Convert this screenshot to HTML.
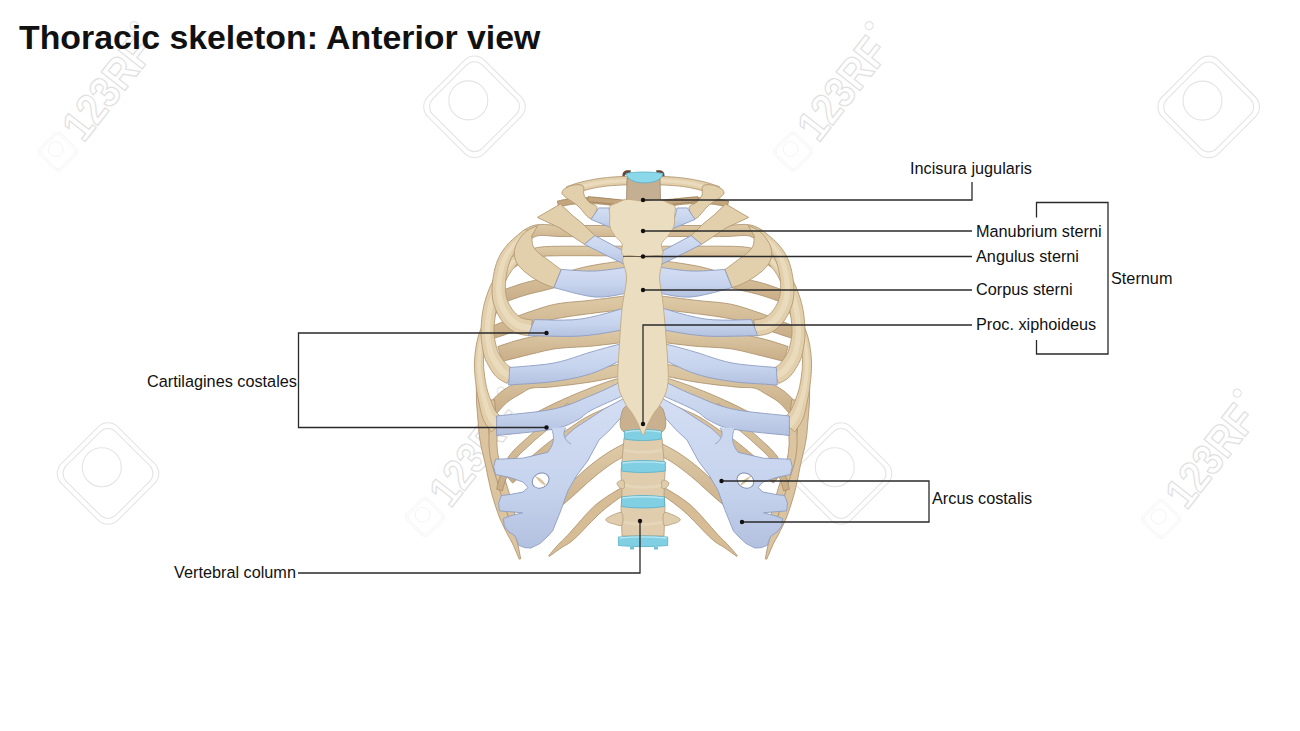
<!DOCTYPE html>
<html><head><meta charset="utf-8">
<style>
html,body{margin:0;padding:0;background:#fff;width:1300px;height:731px;overflow:hidden}
svg{position:absolute;left:0;top:0}
text{font-family:"Liberation Sans",sans-serif;fill:#111}
</style></head><body>
<svg width="1300" height="731" viewBox="0 0 1300 731">
<!-- CAGE -->
<defs>
<g id="wmi" fill="none" stroke="#e4e4e4" stroke-width="1.1">
 <rect x="-40" y="-40" width="80" height="80" rx="14" transform="rotate(45)"/>
 <rect x="-35" y="-35" width="70" height="70" rx="11" transform="rotate(45)"/>
 <circle cx="-6.2" cy="-6.3" r="19.5"/>
</g>
<g id="wmt" fill="#fff" stroke="#e2e2e2" stroke-width="1.1">
 <g transform="scale(0.38)"><use href="#wmi"/></g>
 <g transform="rotate(-51.8)">
  <text x="22" y="15" font-weight="bold" font-size="44" textLength="116" lengthAdjust="spacingAndGlyphs" style="fill:#fff;stroke:#e0e0e0;stroke-width:1.2">123RF</text>
  <circle cx="146" cy="-18" r="4" fill="none"/>
 </g>
</g>
</defs>
<g id="wm">
<use href="#wmi" x="474.5" y="106.7"/><use href="#wmi" x="1208.7" y="106.9"/>
<use href="#wmi" x="108" y="473.5"/><use href="#wmi" x="841" y="473.5"/>
<use href="#wmt" x="58" y="151.5"/><use href="#wmt" x="793" y="151.5"/>
<use href="#wmt" x="425" y="517"/><use href="#wmt" x="1161" y="519"/>
</g>
<g id="cage"><!--CAGE-->
<defs><linearGradient id="gP" x1="0" y1="0" x2="0" y2="1"><stop offset="0" stop-color="#dfcba8"/><stop offset="1" stop-color="#c8ad87"/></linearGradient><linearGradient id="gC" x1="0" y1="0" x2="0" y2="1"><stop offset="0" stop-color="#d3def3"/><stop offset="0.6" stop-color="#c6d3ed"/><stop offset="1" stop-color="#b3c1e0"/></linearGradient><g id="L">
<path d="M630.4,202.0 L628.1,201.7 L624.9,201.2 L621.2,200.7 L617.0,200.0 L612.6,199.4 L608.2,198.8 L604.0,198.4 L600.2,198.0 L596.7,197.8 L593.3,197.6 L589.9,197.6 L586.7,197.6 L583.5,197.6 L580.5,197.7 L577.5,197.8 L574.8,198.0 L572.0,198.3 L569.3,198.6 L566.8,199.1 L564.3,199.6 L562.1,200.0 L560.2,200.5 L558.6,200.8 L557.4,201.1 L558.6,206.9 L559.9,206.7 L561.5,206.3 L563.4,205.9 L565.5,205.4 L567.8,205.0 L570.2,204.6 L572.7,204.2 L575.2,204.0 L577.9,203.8 L580.7,203.7 L583.6,203.6 L586.7,203.6 L589.9,203.6 L593.1,203.6 L596.4,203.8 L599.8,204.0 L603.4,204.3 L607.5,204.8 L611.8,205.4 L616.1,206.0 L620.3,206.6 L624.0,207.2 L627.2,207.6 L629.6,208.0 Z" fill="#c3a67d" stroke="#9f825c" stroke-width="0.8"/>
<path d="M630.0,225.5 L626.8,225.5 L622.6,225.5 L617.5,225.5 L611.9,225.5 L606.0,225.5 L600.2,225.5 L594.8,225.5 L590.0,225.5 L585.7,225.5 L581.5,225.5 L577.6,225.5 L573.7,225.6 L570.1,225.6 L566.6,225.6 L563.3,225.5 L560.1,225.5 L557.2,225.4 L554.4,225.2 L551.8,225.0 L549.2,224.8 L546.7,224.6 L544.3,224.5 L541.9,224.4 L539.7,224.5 L537.6,224.7 L535.7,225.0 L534.0,225.4 L532.5,225.8 L531.0,226.4 L529.8,226.9 L528.6,227.5 L527.4,228.1 L526.0,229.0 L524.6,230.0 L523.3,231.1 L522.1,232.1 L521.0,233.1 L520.1,234.0 L519.4,234.6 L518.9,235.1 L525.1,242.9 L525.8,242.4 L526.7,241.7 L527.7,241.0 L528.7,240.3 L529.7,239.5 L530.8,238.8 L531.7,238.3 L532.6,237.9 L533.5,237.4 L534.5,237.0 L535.3,236.6 L536.0,236.3 L536.8,236.0 L537.8,235.8 L538.9,235.6 L540.3,235.5 L542.0,235.4 L543.8,235.5 L546.0,235.6 L548.3,235.8 L550.9,236.0 L553.7,236.2 L556.7,236.4 L559.9,236.5 L563.1,236.5 L566.5,236.6 L570.1,236.6 L573.8,236.6 L577.6,236.5 L581.6,236.5 L585.7,236.5 L590.0,236.5 L594.8,236.5 L600.2,236.5 L606.0,236.5 L611.9,236.5 L617.5,236.5 L622.6,236.5 L626.8,236.5 L630.0,236.5 Z" fill="url(#gP)" stroke="#a88d68" stroke-width="0.8"/>
<path d="M630.0,246.2 L626.8,246.2 L622.6,246.2 L617.5,246.2 L611.9,246.2 L606.0,246.2 L600.2,246.2 L594.8,246.2 L590.0,246.3 L585.7,246.2 L581.6,246.2 L577.6,246.2 L573.8,246.2 L570.1,246.2 L566.5,246.2 L563.2,246.2 L559.9,246.3 L556.9,246.3 L554.2,246.3 L551.6,246.4 L549.1,246.5 L546.7,246.6 L544.2,246.7 L541.8,247.0 L539.3,247.3 L536.7,247.7 L534.1,248.3 L531.5,248.9 L529.0,249.5 L526.6,250.2 L524.3,250.9 L522.2,251.6 L520.1,252.4 L518.1,253.2 L516.3,254.2 L514.6,255.2 L513.1,256.1 L511.8,257.0 L510.7,257.8 L509.9,258.4 L509.3,258.8 L514.7,267.2 L515.5,266.7 L516.5,266.0 L517.5,265.3 L518.7,264.5 L519.9,263.7 L521.1,263.0 L522.5,262.3 L523.9,261.6 L525.6,261.0 L527.5,260.3 L529.5,259.6 L531.7,258.9 L534.0,258.2 L536.2,257.6 L538.5,257.1 L540.7,256.7 L542.9,256.4 L545.0,256.2 L547.2,256.0 L549.4,255.9 L551.8,255.9 L554.3,255.8 L557.1,255.8 L560.1,255.7 L563.3,255.7 L566.6,255.7 L570.1,255.7 L573.7,255.7 L577.6,255.7 L581.5,255.7 L585.7,255.7 L590.0,255.7 L594.8,255.8 L600.2,255.8 L606.0,255.8 L611.9,255.8 L617.5,255.8 L622.6,255.8 L626.8,255.8 L630.0,255.8 Z" fill="url(#gP)" stroke="#a88d68" stroke-width="0.8"/>
<path d="M629.2,260.1 L626.1,260.5 L622.1,261.0 L617.2,261.6 L611.7,262.4 L606.0,263.2 L600.1,264.1 L594.3,265.1 L588.8,266.1 L583.4,267.3 L577.9,268.7 L572.4,270.2 L566.9,271.7 L561.5,273.3 L556.4,274.7 L551.7,276.0 L547.5,277.2 L543.7,278.2 L540.3,279.0 L537.2,279.7 L534.4,280.4 L531.6,281.1 L528.9,281.7 L526.2,282.4 L523.3,283.2 L520.3,284.1 L517.2,285.1 L514.1,286.2 L511.1,287.2 L508.2,288.2 L505.7,289.1 L503.6,289.8 L502.1,290.3 L505.9,301.7 L507.6,301.1 L509.7,300.4 L512.2,299.5 L514.9,298.5 L517.9,297.5 L520.9,296.5 L523.9,295.6 L526.7,294.8 L529.3,294.0 L531.9,293.4 L534.4,292.7 L537.1,292.1 L540.0,291.4 L543.2,290.7 L546.6,289.8 L550.5,288.8 L554.9,287.6 L559.7,286.3 L564.8,284.8 L570.1,283.3 L575.5,281.8 L580.9,280.3 L586.2,279.0 L591.2,277.9 L596.4,276.9 L602.0,275.9 L607.7,275.1 L613.4,274.3 L618.8,273.5 L623.6,272.9 L627.7,272.4 L630.8,271.9 Z" fill="url(#gP)" stroke="#a88d68" stroke-width="0.8"/>
<path d="M629.2,295.5 L626.0,295.8 L621.8,296.4 L616.8,297.0 L611.2,297.7 L605.4,298.5 L599.6,299.2 L594.1,299.9 L589.2,300.4 L584.8,300.9 L580.6,301.3 L576.4,301.6 L572.4,302.0 L568.4,302.3 L564.4,302.8 L560.5,303.3 L556.7,303.9 L552.9,304.7 L549.2,305.6 L545.7,306.6 L542.3,307.6 L539.0,308.7 L535.9,309.7 L532.9,310.7 L530.0,311.7 L527.2,312.6 L524.6,313.5 L522.2,314.4 L519.9,315.3 L517.6,316.1 L515.4,317.0 L513.1,317.9 L510.7,318.8 L508.0,319.9 L505.0,321.0 L501.8,322.3 L498.7,323.5 L495.7,324.7 L492.9,325.8 L490.7,326.7 L489.0,327.4 L493.0,338.6 L494.8,338.1 L497.1,337.3 L499.9,336.4 L503.0,335.4 L506.2,334.3 L509.4,333.2 L512.5,332.2 L515.3,331.2 L517.8,330.3 L520.2,329.4 L522.4,328.5 L524.6,327.6 L526.8,326.7 L529.0,325.9 L531.4,325.1 L534.0,324.3 L536.8,323.5 L539.8,322.6 L542.9,321.8 L546.1,321.0 L549.3,320.2 L552.6,319.5 L555.9,318.7 L559.3,318.1 L562.8,317.5 L566.4,316.9 L570.1,316.3 L573.9,315.8 L577.9,315.2 L582.0,314.7 L586.3,314.1 L590.8,313.6 L595.7,312.9 L601.2,312.2 L607.0,311.5 L612.8,310.8 L618.4,310.1 L623.4,309.5 L627.7,308.9 L630.8,308.5 Z" fill="url(#gP)" stroke="#a88d68" stroke-width="0.8"/>
<path d="M629.3,328.4 L626.2,328.7 L622.0,329.1 L617.0,329.6 L611.5,330.0 L605.7,330.6 L599.9,331.0 L594.4,331.5 L589.4,331.8 L584.9,332.1 L580.5,332.2 L576.0,332.3 L571.6,332.4 L567.2,332.5 L562.8,332.6 L558.4,332.9 L554.1,333.3 L549.8,333.8 L545.7,334.3 L541.6,335.0 L537.7,335.7 L533.9,336.4 L530.1,337.2 L526.5,338.0 L523.0,338.8 L519.4,339.8 L515.6,340.8 L511.9,341.9 L508.4,343.1 L505.1,344.1 L502.1,345.1 L499.7,345.9 L497.8,346.5 L502.2,361.5 L504.1,361.0 L506.6,360.3 L509.6,359.5 L512.9,358.7 L516.4,357.8 L520.0,356.9 L523.5,356.0 L527.0,355.2 L530.4,354.3 L533.9,353.5 L537.5,352.6 L541.1,351.7 L544.7,350.8 L548.4,350.1 L552.1,349.3 L555.9,348.7 L559.8,348.3 L563.8,347.9 L567.9,347.6 L572.2,347.4 L576.6,347.1 L581.1,346.9 L585.8,346.6 L590.6,346.2 L595.7,345.7 L601.3,345.1 L607.1,344.4 L612.9,343.7 L618.4,343.0 L623.4,342.4 L627.6,341.9 L630.7,341.6 Z" fill="url(#gP)" stroke="#a88d68" stroke-width="0.8"/>
<path d="M628.8,362.1 L625.7,362.8 L621.6,363.6 L616.7,364.7 L611.3,365.8 L605.6,367.0 L599.8,368.1 L594.2,369.2 L589.0,370.1 L584.0,370.8 L578.7,371.6 L573.4,372.2 L568.0,372.9 L562.9,373.5 L557.9,374.0 L553.4,374.5 L549.3,375.0 L545.9,375.4 L543.0,375.8 L540.4,376.0 L538.0,376.3 L535.7,376.5 L533.4,376.8 L531.1,377.2 L528.7,377.8 L526.4,378.4 L524.3,379.0 L522.4,379.7 L520.6,380.5 L518.9,381.3 L517.2,382.1 L515.7,382.9 L514.1,383.8 L512.4,384.7 L510.6,385.7 L508.7,386.7 L506.8,387.9 L504.9,389.1 L503.0,390.4 L501.0,391.9 L499.1,393.5 L497.1,395.3 L495.1,397.3 L493.1,399.4 L491.1,401.6 L489.4,403.6 L487.8,405.4 L486.5,406.9 L485.5,408.0 L494.5,416.0 L495.5,414.8 L496.8,413.3 L498.4,411.5 L500.1,409.5 L501.9,407.6 L503.7,405.6 L505.4,403.9 L506.9,402.5 L508.4,401.4 L509.9,400.2 L511.5,399.2 L513.2,398.1 L514.8,397.2 L516.5,396.2 L518.2,395.2 L519.9,394.2 L521.6,393.2 L523.1,392.3 L524.4,391.4 L525.7,390.6 L526.9,389.9 L528.2,389.3 L529.6,388.7 L531.3,388.2 L533.0,387.9 L534.7,387.7 L536.6,387.6 L538.7,387.6 L541.1,387.5 L543.9,387.5 L547.1,387.3 L550.7,387.0 L554.7,386.5 L559.3,386.0 L564.2,385.5 L569.5,384.9 L574.9,384.2 L580.3,383.5 L585.7,382.7 L591.0,381.9 L596.3,381.0 L602.1,379.9 L607.9,378.7 L613.7,377.6 L619.2,376.4 L624.1,375.4 L628.1,374.5 L631.2,373.9 Z" fill="url(#gP)" stroke="#a88d68" stroke-width="0.8"/>
<path d="M628.2,375.3 L626.4,375.8 L624.0,376.6 L621.1,377.5 L617.8,378.5 L614.2,379.6 L610.5,380.8 L606.7,382.0 L603.0,383.4 L599.2,384.7 L595.1,386.2 L591.0,387.8 L586.7,389.5 L582.4,391.2 L578.1,392.9 L573.8,394.7 L569.7,396.5 L565.6,398.3 L561.4,400.2 L557.2,402.1 L553.0,404.1 L549.0,406.0 L545.0,408.0 L541.3,409.9 L537.8,411.7 L534.6,413.6 L531.4,415.4 L528.4,417.3 L525.6,419.1 L523.2,420.8 L521.0,422.3 L519.2,423.5 L517.8,424.4 L522.2,431.6 L523.7,430.7 L525.6,429.5 L527.9,428.1 L530.4,426.6 L533.1,425.0 L536.0,423.4 L539.0,421.8 L542.2,420.3 L545.5,418.8 L549.2,417.2 L553.2,415.7 L557.3,414.1 L561.6,412.4 L565.9,410.8 L570.1,409.2 L574.3,407.5 L578.4,405.9 L582.7,404.2 L586.9,402.5 L591.2,400.8 L595.4,399.1 L599.4,397.5 L603.3,396.0 L607.0,394.6 L610.6,393.4 L614.3,392.2 L617.9,391.0 L621.3,389.9 L624.6,388.9 L627.4,388.1 L629.9,387.3 L631.8,386.7 Z" fill="url(#gP)" stroke="#a88d68" stroke-width="0.8"/>
<path d="M628.2,397.4 L627.2,397.9 L625.9,398.6 L624.5,399.3 L622.8,400.2 L621.0,401.1 L618.9,402.2 L616.7,403.2 L614.3,404.4 L611.6,405.6 L608.6,406.9 L605.3,408.3 L601.8,409.8 L598.2,411.4 L594.6,413.0 L591.2,414.6 L587.9,416.3 L584.9,418.0 L582.0,419.7 L579.2,421.5 L576.6,423.3 L574.0,425.1 L571.4,426.9 L568.9,428.6 L566.5,430.3 L564.2,431.7 L562.2,433.0 L560.2,434.2 L558.2,435.5 L556.0,436.9 L553.5,438.7 L550.7,440.8 L547.2,443.5 L542.9,446.9 L537.8,451.2 L532.0,456.0 L526.1,461.0 L520.3,466.0 L515.1,470.5 L510.6,474.2 L507.4,476.9 L512.6,483.1 L515.8,480.4 L520.3,476.7 L525.7,472.4 L531.5,467.6 L537.5,462.7 L543.3,458.0 L548.5,453.9 L552.8,450.5 L556.1,448.0 L558.8,446.1 L561.1,444.5 L563.2,443.1 L565.1,441.9 L567.0,440.7 L569.1,439.3 L571.5,437.7 L574.1,436.0 L576.6,434.2 L579.1,432.3 L581.6,430.5 L584.1,428.8 L586.7,427.0 L589.3,425.3 L592.1,423.7 L595.0,422.1 L598.2,420.5 L601.6,418.9 L605.1,417.3 L608.5,415.8 L611.9,414.3 L614.9,412.9 L617.7,411.6 L620.2,410.4 L622.4,409.3 L624.5,408.3 L626.4,407.3 L628.1,406.4 L629.6,405.7 L630.8,405.1 L631.8,404.6 Z" fill="url(#gP)" stroke="#a88d68" stroke-width="0.8"/>
<path d="M627.3,442.0 L625.8,442.8 L623.8,443.8 L621.4,445.1 L618.6,446.5 L615.7,448.1 L612.7,449.7 L609.7,451.5 L606.9,453.2 L604.3,455.0 L601.7,456.8 L599.1,458.6 L596.5,460.5 L593.9,462.5 L591.3,464.6 L588.6,466.8 L585.8,469.1 L583.0,471.6 L580.1,474.2 L577.2,476.9 L574.3,479.7 L571.3,482.5 L568.3,485.3 L565.4,488.2 L562.4,491.0 L559.2,494.0 L555.7,497.3 L552.0,500.8 L548.4,504.3 L544.9,507.5 L541.8,510.5 L539.2,513.0 L537.2,514.9 L542.8,521.1 L544.9,519.4 L547.7,517.2 L551.0,514.4 L554.7,511.4 L558.6,508.2 L562.5,505.0 L566.2,501.9 L569.6,499.0 L572.8,496.2 L575.9,493.4 L579.0,490.6 L581.9,487.9 L584.9,485.2 L587.7,482.6 L590.5,480.2 L593.2,477.9 L595.8,475.7 L598.4,473.6 L601.0,471.6 L603.4,469.7 L605.9,467.8 L608.3,466.1 L610.7,464.4 L613.1,462.8 L615.6,461.2 L618.3,459.6 L621.1,458.1 L623.9,456.6 L626.6,455.2 L629.0,453.9 L631.1,452.9 L632.7,452.0 Z" fill="url(#gP)" stroke="#a88d68" stroke-width="0.8"/>
<path d="M624.0,486.1 L621.9,487.4 L619.1,489.1 L615.7,491.1 L611.9,493.4 L607.9,495.9 L603.8,498.7 L599.8,501.6 L596.0,504.6 L592.4,507.9 L588.7,511.7 L585.0,515.6 L581.4,519.7 L578.0,523.6 L574.7,527.3 L571.8,530.6 L569.4,533.3 L567.3,535.5 L565.7,537.2 L564.3,538.5 L563.1,539.7 L562.1,540.7 L561.0,541.8 L559.8,543.0 L558.5,544.3 L557.2,545.8 L555.7,547.4 L554.3,549.1 L552.9,550.7 L551.6,552.2 L550.4,553.6 L549.4,554.8 L548.7,555.6 L549.3,556.4 L550.3,555.7 L551.5,554.8 L553.0,553.7 L554.6,552.6 L556.4,551.3 L558.1,550.1 L559.9,548.8 L561.5,547.7 L562.9,546.8 L564.2,546.0 L565.5,545.3 L566.9,544.6 L568.4,543.6 L570.2,542.4 L572.2,540.8 L574.6,538.7 L577.5,536.0 L580.7,532.8 L584.1,529.2 L587.7,525.5 L591.4,521.6 L595.1,517.9 L598.6,514.4 L602.0,511.4 L605.3,508.6 L609.0,505.7 L612.7,502.8 L616.4,500.1 L620.0,497.6 L623.2,495.3 L625.9,493.4 L628.0,491.9 Z" fill="#d6bd96" stroke="#a98b64" stroke-width="0.8"/>
<path d="M476.5,372.1 L476.5,374.3 L476.5,377.3 L476.4,380.9 L476.4,384.9 L476.4,389.0 L476.4,393.1 L476.4,396.9 L476.5,400.3 L476.6,403.2 L476.8,406.0 L477.0,408.6 L477.2,411.0 L477.4,413.4 L477.6,415.7 L477.8,418.1 L478.0,420.5 L478.2,422.9 L478.4,425.3 L478.6,427.8 L478.8,430.3 L479.0,432.8 L479.3,435.4 L479.7,438.1 L480.1,440.8 L480.6,443.6 L481.1,446.3 L481.7,449.0 L482.4,451.7 L483.1,454.4 L483.7,457.2 L484.4,460.1 L485.1,463.1 L485.8,466.3 L486.5,469.7 L487.2,473.2 L487.9,476.9 L488.7,480.6 L489.5,484.2 L490.3,487.8 L491.1,491.2 L492.0,494.5 L492.9,497.7 L493.9,500.9 L494.8,504.0 L495.8,507.1 L496.8,510.0 L497.8,512.8 L498.7,515.5 L499.7,518.0 L500.8,520.5 L501.8,522.7 L502.8,524.9 L503.8,526.9 L504.7,528.9 L505.7,530.7 L506.5,532.5 L507.4,534.1 L508.2,535.7 L509.0,537.0 L509.7,538.3 L510.4,539.6 L511.1,540.9 L511.9,542.3 L512.6,543.8 L513.5,545.6 L514.4,547.7 L515.4,549.9 L516.3,552.2 L517.2,554.4 L518.1,556.3 L518.8,558.0 L519.3,559.2 L520.7,558.8 L520.5,557.5 L520.1,555.7 L519.7,553.6 L519.3,551.3 L518.8,548.9 L518.3,546.5 L517.8,544.2 L517.4,542.2 L516.9,540.4 L516.4,538.8 L516.0,537.2 L515.5,535.8 L515.1,534.3 L514.6,532.9 L514.1,531.3 L513.5,529.5 L512.8,527.6 L512.0,525.7 L511.3,523.7 L510.5,521.6 L509.6,519.5 L508.8,517.3 L508.0,515.0 L507.3,512.5 L506.5,509.9 L505.7,507.2 L504.9,504.3 L504.0,501.3 L503.2,498.3 L502.4,495.2 L501.6,492.0 L500.9,488.8 L500.1,485.5 L499.3,482.1 L498.6,478.5 L497.8,474.9 L497.1,471.2 L496.3,467.7 L495.6,464.2 L494.9,460.9 L494.2,457.8 L493.5,454.9 L492.8,452.0 L492.1,449.3 L491.5,446.7 L490.9,444.2 L490.4,441.7 L489.9,439.2 L489.6,436.7 L489.3,434.3 L489.0,431.9 L488.8,429.5 L488.6,427.0 L488.4,424.6 L488.2,422.1 L488.0,419.5 L487.7,417.0 L487.4,414.6 L487.0,412.3 L486.7,410.0 L486.4,407.6 L486.1,405.1 L485.8,402.5 L485.5,399.7 L485.2,396.5 L484.9,392.7 L484.6,388.7 L484.3,384.6 L484.1,380.7 L483.8,377.1 L483.6,374.1 L483.5,371.9 Z" fill="#dbc4a0" stroke="#a98b64" stroke-width="0.8"/>
<path d="M487.5,400.2 L487.6,402.7 L487.8,406.2 L488.0,410.4 L488.3,414.9 L488.5,419.5 L488.7,424.0 L488.9,427.9 L489.0,431.2 L489.1,433.6 L489.1,435.6 L489.0,437.3 L489.0,438.8 L488.9,440.3 L488.9,441.8 L488.9,443.4 L489.0,445.2 L489.1,447.1 L489.3,448.9 L489.4,450.7 L489.7,452.6 L489.9,454.5 L490.2,456.6 L490.6,458.7 L491.1,460.9 L491.7,463.3 L492.4,465.8 L493.1,468.3 L493.9,470.9 L494.8,473.5 L495.6,476.1 L496.4,478.7 L497.2,481.2 L497.9,483.7 L498.7,486.2 L499.4,488.7 L500.1,491.2 L500.9,493.7 L501.6,496.2 L502.4,498.7 L503.2,501.1 L504.0,503.7 L504.8,506.2 L505.6,508.7 L506.5,511.3 L507.3,513.8 L508.2,516.2 L509.0,518.6 L509.9,520.9 L510.8,523.3 L511.7,525.7 L512.7,528.1 L513.6,530.4 L514.5,532.6 L515.4,534.5 L516.0,536.2 L516.6,537.4 L519.4,536.6 L519.2,535.2 L518.9,533.5 L518.5,531.4 L518.1,529.1 L517.7,526.6 L517.2,524.1 L516.6,521.5 L516.1,519.1 L515.6,516.7 L514.9,514.2 L514.3,511.7 L513.6,509.1 L512.9,506.5 L512.2,504.0 L511.5,501.4 L510.8,498.9 L510.1,496.3 L509.4,493.8 L508.6,491.3 L507.9,488.8 L507.1,486.3 L506.3,483.8 L505.6,481.3 L504.8,478.8 L504.0,476.3 L503.2,473.7 L502.4,471.1 L501.6,468.5 L500.8,466.0 L500.1,463.5 L499.4,461.2 L498.9,459.1 L498.5,457.1 L498.1,455.2 L497.8,453.4 L497.6,451.6 L497.4,449.9 L497.3,448.2 L497.1,446.5 L497.0,444.8 L496.9,443.2 L496.9,441.9 L497.0,440.6 L497.0,439.2 L497.1,437.6 L497.1,435.7 L497.1,433.5 L497.0,430.8 L496.8,427.5 L496.5,423.5 L496.1,419.0 L495.7,414.4 L495.4,409.9 L495.0,405.7 L494.7,402.3 L494.5,399.8 Z" fill="#dbc4a0" stroke="#a98b64" stroke-width="0.8"/>
<path d="M567.7,403.3 L566.2,404.6 L564.1,406.4 L561.7,408.5 L559.0,410.8 L556.1,413.2 L553.2,415.7 L550.4,418.1 L547.7,420.3 L545.2,422.4 L542.7,424.5 L540.2,426.6 L537.6,428.8 L535.1,430.9 L532.6,433.0 L530.1,435.2 L527.6,437.4 L525.2,439.6 L522.8,441.8 L520.3,444.0 L517.9,446.3 L515.5,448.6 L513.2,451.0 L511.1,453.4 L509.1,456.0 L507.4,458.7 L505.9,461.5 L504.6,464.3 L503.5,467.1 L502.4,469.8 L501.5,472.4 L500.7,474.7 L500.0,476.9 L499.2,478.9 L498.6,480.9 L498.1,482.8 L497.7,484.5 L497.3,486.0 L497.0,487.3 L496.8,488.4 L496.6,489.2 L502.4,490.8 L502.7,489.9 L503.0,488.7 L503.3,487.5 L503.7,486.0 L504.2,484.5 L504.7,482.8 L505.3,481.0 L506.0,479.1 L506.9,477.0 L507.8,474.7 L508.7,472.2 L509.7,469.6 L510.8,467.1 L512.1,464.6 L513.4,462.2 L514.9,460.0 L516.5,457.9 L518.4,455.7 L520.5,453.5 L522.7,451.4 L525.1,449.2 L527.5,447.0 L529.9,444.8 L532.4,442.6 L534.7,440.4 L537.1,438.3 L539.6,436.2 L542.1,434.1 L544.6,432.0 L547.2,429.9 L549.7,427.8 L552.3,425.7 L554.9,423.4 L557.7,421.0 L560.6,418.5 L563.5,416.1 L566.2,413.8 L568.7,411.7 L570.7,410.0 L572.3,408.7 Z" fill="url(#gP)" stroke="#a88d68" stroke-width="0.8"/>
<path d="M627.8,176.3 L626.4,176.3 L624.5,176.4 L622.2,176.5 L619.7,176.6 L617.1,176.8 L614.5,176.9 L611.9,177.1 L609.6,177.3 L607.6,177.5 L605.6,177.7 L603.6,177.9 L601.8,178.1 L599.9,178.4 L598.0,178.7 L596.1,179.0 L594.2,179.3 L592.3,179.7 L590.3,180.1 L588.3,180.4 L586.3,180.9 L584.3,181.3 L582.4,181.7 L580.6,182.2 L578.8,182.7 L577.0,183.2 L575.1,183.8 L573.3,184.4 L571.6,185.0 L570.0,185.5 L568.6,186.0 L567.4,186.4 L566.5,186.7 L569.5,195.3 L570.4,194.9 L571.6,194.5 L573.0,194.0 L574.5,193.5 L576.2,192.9 L577.9,192.4 L579.6,191.8 L581.2,191.3 L582.9,190.9 L584.6,190.4 L586.5,189.9 L588.3,189.4 L590.2,188.9 L592.1,188.5 L593.9,188.1 L595.8,187.7 L597.6,187.3 L599.3,187.1 L601.1,186.8 L602.9,186.5 L604.7,186.3 L606.5,186.1 L608.4,185.9 L610.4,185.7 L612.5,185.6 L615.0,185.4 L617.5,185.3 L620.1,185.1 L622.6,185.0 L624.9,184.9 L626.8,184.8 L628.2,184.7 Z" fill="#e2cfac" stroke="#b39870" stroke-width="0.9"/>
<path d="M627.9,178.8 L626.5,178.9 L624.6,179.0 L622.4,179.1 L619.9,179.2 L617.2,179.3 L614.6,179.5 L612.1,179.6 L609.9,179.8 L607.8,180.0 L605.8,180.2 L603.9,180.4 L602.0,180.7 L600.1,181.0 L598.3,181.2 L596.5,181.5 L594.7,181.8 L592.9,182.2 L590.9,182.6 L589.0,183.0 L587.2,183.5 L585.4,183.9 L583.9,184.3 L582.6,184.6 L581.6,184.8 L582.4,188.2 L583.4,187.9 L584.7,187.6 L586.2,187.2 L588.0,186.8 L589.8,186.3 L591.7,185.9 L593.5,185.5 L595.3,185.2 L597.0,184.9 L598.8,184.6 L600.6,184.3 L602.4,184.1 L604.3,183.8 L606.2,183.6 L608.1,183.4 L610.1,183.2 L612.4,183.0 L614.8,182.9 L617.4,182.7 L620.0,182.6 L622.5,182.5 L624.8,182.4 L626.7,182.3 L628.1,182.2 Z" fill="#ecdfc3" opacity="0.75"/>
<path d="M628.2,200.5 L626.6,200.4 L624.4,200.2 L621.8,199.9 L618.9,199.6 L615.9,199.3 L612.8,199.1 L609.9,198.8 L607.2,198.5 L604.7,198.2 L601.9,198.0 L599.2,197.7 L596.5,197.4 L593.9,197.1 L591.6,196.9 L589.7,196.7 L588.3,196.5 L587.7,201.5 L589.2,201.6 L591.1,201.8 L593.4,202.1 L595.9,202.4 L598.6,202.6 L601.4,202.9 L604.1,203.2 L606.8,203.5 L609.4,203.8 L612.4,204.0 L615.4,204.3 L618.5,204.6 L621.3,204.9 L623.9,205.1 L626.1,205.3 L627.8,205.5 Z" fill="#c3a67d" stroke="#9f825c" stroke-width="0.8"/>
<path d="M562.0,193.0 L562.0,192.2 L562.3,191.5 L562.7,190.7 L563.3,189.9 L564.1,189.2 L565.0,188.5 L566.2,187.8 L567.6,187.1 L569.1,186.4 L570.8,185.8 L572.4,185.3 L574.0,185.0 L575.6,184.8 L577.3,184.7 L579.0,184.7 L580.6,184.9 L582.0,185.3 L583.0,186.0 L583.6,187.1 L583.8,188.5 L583.8,190.1 L583.7,191.9 L583.7,193.5 L584.0,195.0 L584.6,196.3 L585.3,197.5 L586.1,198.7 L587.0,199.8 L587.9,200.9 L589.0,202.0 L590.3,203.0 L592.0,203.8 L593.7,204.6 L595.3,205.4 L596.5,206.4 L597.0,207.6 L596.8,209.4 L596.1,211.7 L595.0,214.2 L593.6,216.5 L592.1,218.1 L590.5,218.6 L588.8,217.8 L586.8,216.0 L584.6,213.5 L582.4,210.8 L580.1,208.1 L578.0,206.0 L575.9,204.3 L573.7,202.7 L571.5,201.2 L569.4,199.9 L567.5,198.6 L566.0,197.5 L564.8,196.5 L563.8,195.7 L563.1,195.0 L562.5,194.4 L562.2,193.7 Z" fill="#e2cfac" stroke="#b39870" stroke-width="0.9"/>
<path d="M537.4,217.4 L560.4,204 L572,215 L583,224 L594.9,235.6 L584.4,244.3 L572,236 L560,228 L545,221 Z" stroke-linejoin="round" fill="#e2cfac" stroke="#b39870" stroke-width="0.9"/>
<path d="M497.4,298.5 L496.6,299.9 L495.5,301.6 L494.2,303.8 L492.7,306.1 L491.2,308.7 L489.6,311.3 L488.2,314.0 L486.9,316.5 L485.7,318.9 L484.5,321.2 L483.3,323.7 L482.1,326.2 L481.0,328.7 L479.9,331.4 L479.0,334.2 L478.1,337.0 L477.4,340.0 L476.7,343.0 L476.1,346.1 L475.7,349.3 L475.2,352.5 L474.9,355.7 L474.7,358.8 L474.5,361.9 L474.4,365.0 L474.5,368.2 L474.6,371.3 L474.9,374.4 L475.1,377.4 L475.4,380.3 L475.8,383.1 L476.1,385.8 L476.4,388.3 L476.7,390.8 L477.1,393.1 L477.5,395.4 L478.0,397.5 L478.4,399.6 L478.8,401.7 L479.2,403.7 L479.6,405.6 L480.0,407.6 L480.4,409.6 L480.9,411.6 L481.4,413.6 L481.9,415.6 L482.6,417.6 L483.4,419.6 L484.5,421.7 L485.6,423.7 L486.8,425.6 L488.0,427.3 L489.1,428.9 L490.0,430.2 L490.7,431.1 L491.2,431.9 L504.8,420.1 L504.0,419.4 L503.0,418.4 L501.8,417.4 L500.6,416.4 L499.4,415.3 L498.3,414.3 L497.3,413.3 L496.6,412.4 L495.8,411.3 L495.1,410.1 L494.3,408.8 L493.6,407.3 L492.9,405.7 L492.2,404.0 L491.5,402.2 L490.8,400.3 L490.1,398.4 L489.4,396.6 L488.7,394.7 L488.1,392.8 L487.5,390.8 L486.9,388.7 L486.4,386.5 L485.9,384.2 L485.5,381.7 L485.0,379.1 L484.6,376.3 L484.3,373.5 L483.9,370.6 L483.7,367.7 L483.6,364.9 L483.5,362.1 L483.5,359.2 L483.6,356.3 L483.8,353.3 L484.1,350.3 L484.4,347.4 L484.8,344.5 L485.3,341.7 L485.9,339.0 L486.5,336.4 L487.3,333.9 L488.1,331.5 L489.0,329.1 L490.0,326.7 L491.0,324.3 L492.1,321.9 L493.1,319.5 L494.3,317.1 L495.6,314.5 L496.9,311.9 L498.3,309.4 L499.6,306.9 L500.8,304.7 L501.8,302.9 L502.6,301.5 Z" fill="#e2cfac" stroke="#b39870" stroke-width="0.9"/>
<path d="M499.0,299.4 L498.2,300.8 L497.1,302.6 L495.8,304.7 L494.4,307.1 L492.9,309.7 L491.4,312.3 L490.0,314.9 L488.7,317.4 L487.6,319.8 L486.4,322.2 L485.3,324.6 L484.2,327.0 L483.1,329.6 L482.1,332.2 L481.2,334.8 L480.4,337.6 L479.8,340.5 L479.2,343.5 L478.6,346.5 L478.2,349.6 L477.8,352.7 L477.5,355.9 L477.3,358.9 L477.2,362.0 L477.2,365.0 L477.3,368.1 L477.4,371.1 L477.7,374.1 L478.0,377.1 L478.3,379.9 L478.7,382.7 L479.0,385.3 L479.4,387.8 L479.8,390.2 L480.2,392.4 L480.7,394.6 L481.2,396.7 L481.7,398.7 L482.2,400.7 L482.7,402.7 L483.2,404.6 L483.7,406.5 L484.2,408.4 L484.7,410.3 L485.3,412.1 L485.9,413.9 L486.6,415.7 L487.4,417.5 L488.3,419.2 L489.4,420.9 L490.6,422.5 L491.8,424.1 L492.9,425.4 L493.9,426.6 L494.7,427.6 L495.3,428.3 L500.7,423.7 L500.0,422.9 L499.1,421.9 L498.0,420.9 L496.8,419.7 L495.6,418.4 L494.5,417.1 L493.5,415.8 L492.6,414.5 L491.9,413.2 L491.1,411.8 L490.5,410.2 L489.8,408.6 L489.2,406.9 L488.5,405.1 L487.9,403.2 L487.3,401.3 L486.7,399.4 L486.1,397.5 L485.5,395.5 L484.9,393.5 L484.4,391.5 L483.9,389.3 L483.4,387.1 L483.0,384.7 L482.6,382.1 L482.2,379.4 L481.8,376.6 L481.4,373.8 L481.2,370.8 L480.9,367.9 L480.8,364.9 L480.8,362.0 L480.9,359.1 L481.0,356.1 L481.3,353.1 L481.6,350.0 L481.9,347.0 L482.4,344.0 L482.9,341.2 L483.6,338.4 L484.3,335.7 L485.1,333.2 L486.0,330.7 L486.9,328.2 L488.0,325.8 L489.1,323.4 L490.2,321.0 L491.3,318.6 L492.4,316.2 L493.8,313.6 L495.2,311.0 L496.6,308.4 L498.0,306.0 L499.2,303.8 L500.3,302.0 L501.0,300.6 Z" fill="#ecdfc3" opacity="0.75"/>
<path d="M515.1,254.2 L514.1,255.1 L512.8,256.3 L511.2,257.8 L509.4,259.4 L507.5,261.2 L505.5,263.1 L503.7,265.1 L502.0,267.0 L500.5,268.9 L499.1,270.8 L497.7,272.7 L496.4,274.7 L495.1,276.8 L493.8,279.0 L492.6,281.3 L491.5,283.7 L490.3,286.2 L489.2,288.9 L488.1,291.7 L487.1,294.6 L486.1,297.5 L485.2,300.5 L484.4,303.6 L483.6,306.7 L483.0,309.8 L482.5,313.0 L482.0,316.3 L481.7,319.6 L481.4,322.8 L481.2,326.0 L481.1,329.1 L481.0,332.0 L481.0,334.9 L481.2,337.7 L481.4,340.4 L481.7,342.9 L482.1,345.3 L482.4,347.6 L482.8,349.7 L483.2,351.6 L483.6,353.4 L484.0,355.1 L484.4,356.7 L485.0,358.2 L485.5,359.6 L486.1,361.0 L486.8,362.4 L487.5,363.7 L488.3,365.3 L489.3,366.9 L490.3,368.6 L491.3,370.3 L492.5,372.0 L493.7,373.6 L495.0,375.2 L496.5,376.8 L498.2,378.3 L499.9,379.6 L501.6,380.6 L503.2,381.5 L504.6,382.2 L505.8,382.8 L506.6,383.2 L507.1,383.5 L514.9,369.5 L514.0,369.0 L512.9,368.5 L511.9,367.9 L510.8,367.4 L509.8,366.8 L508.9,366.2 L508.1,365.7 L507.5,365.2 L506.8,364.5 L505.9,363.6 L505.0,362.5 L504.0,361.3 L503.1,360.0 L502.1,358.7 L501.3,357.5 L500.5,356.3 L499.8,355.2 L499.2,354.2 L498.8,353.4 L498.4,352.7 L498.0,351.9 L497.6,351.0 L497.2,349.8 L496.8,348.4 L496.3,346.7 L495.9,344.8 L495.4,342.9 L495.0,340.8 L494.6,338.7 L494.3,336.5 L494.1,334.3 L494.0,332.0 L494.0,329.5 L494.1,326.7 L494.3,323.9 L494.6,320.9 L495.0,317.9 L495.4,315.0 L495.9,312.1 L496.4,309.3 L496.9,306.6 L497.6,303.9 L498.3,301.2 L499.1,298.4 L499.9,295.8 L500.8,293.2 L501.7,290.7 L502.5,288.3 L503.4,286.1 L504.2,284.1 L505.1,282.1 L506.0,280.2 L506.9,278.3 L507.9,276.5 L508.9,274.7 L510.0,273.0 L511.2,271.2 L512.6,269.4 L514.2,267.5 L515.7,265.6 L517.3,263.8 L518.7,262.2 L520.0,260.8 L520.9,259.8 Z" fill="#e2cfac" stroke="#b39870" stroke-width="0.9"/>
<path d="M516.8,255.9 L515.9,256.8 L514.6,258.1 L513.0,259.6 L511.3,261.3 L509.5,263.1 L507.7,265.0 L505.9,266.9 L504.4,268.8 L503.0,270.7 L501.7,272.5 L500.5,274.4 L499.3,276.3 L498.1,278.4 L497.0,280.5 L495.9,282.7 L494.8,285.1 L493.7,287.6 L492.7,290.2 L491.7,292.9 L490.7,295.7 L489.8,298.6 L488.9,301.5 L488.1,304.5 L487.5,307.5 L486.9,310.5 L486.4,313.6 L485.9,316.8 L485.6,320.0 L485.3,323.1 L485.1,326.2 L485.0,329.2 L484.9,332.0 L485.0,334.7 L485.1,337.3 L485.4,339.9 L485.7,342.3 L486.1,344.6 L486.5,346.8 L486.9,348.8 L487.3,350.6 L487.7,352.3 L488.1,353.9 L488.5,355.3 L489.0,356.5 L489.5,357.8 L490.1,359.0 L490.7,360.2 L491.4,361.5 L492.2,362.9 L493.1,364.4 L494.1,366.0 L495.1,367.6 L496.2,369.1 L497.4,370.6 L498.6,372.0 L499.8,373.3 L501.1,374.5 L502.6,375.6 L504.1,376.5 L505.5,377.3 L506.8,377.9 L507.9,378.5 L508.8,378.9 L509.5,379.3 L512.5,373.7 L511.8,373.3 L510.8,372.8 L509.7,372.2 L508.5,371.6 L507.3,370.9 L506.2,370.2 L505.1,369.5 L504.2,368.7 L503.3,367.7 L502.3,366.6 L501.3,365.3 L500.2,364.0 L499.2,362.6 L498.3,361.2 L497.4,359.8 L496.6,358.5 L495.9,357.3 L495.3,356.3 L494.8,355.3 L494.3,354.3 L493.9,353.3 L493.5,352.2 L493.1,350.9 L492.7,349.4 L492.3,347.6 L491.8,345.6 L491.4,343.6 L491.0,341.5 L490.6,339.2 L490.4,336.9 L490.2,334.5 L490.1,332.0 L490.1,329.4 L490.3,326.5 L490.5,323.6 L490.7,320.5 L491.1,317.4 L491.5,314.4 L492.0,311.4 L492.5,308.5 L493.2,305.7 L493.9,302.9 L494.6,300.1 L495.5,297.3 L496.4,294.5 L497.3,291.9 L498.3,289.3 L499.2,286.9 L500.2,284.7 L501.1,282.5 L502.1,280.5 L503.1,278.5 L504.2,276.6 L505.3,274.8 L506.4,273.0 L507.6,271.2 L508.9,269.4 L510.5,267.5 L512.1,265.6 L513.8,263.7 L515.5,262.0 L517.0,260.4 L518.2,259.1 L519.2,258.1 Z" fill="#ecdfc3" opacity="0.75"/>
<path d="M525.3,229.0 L524.0,230.1 L522.2,231.5 L520.0,233.2 L517.6,235.2 L515.1,237.3 L512.6,239.5 L510.2,241.7 L508.1,243.8 L506.4,245.9 L504.8,247.9 L503.3,249.9 L501.9,252.0 L500.6,254.1 L499.5,256.3 L498.4,258.6 L497.3,261.0 L496.4,263.5 L495.6,266.2 L494.8,269.0 L494.2,271.8 L493.7,274.5 L493.2,277.3 L492.8,279.9 L492.5,282.5 L492.3,284.9 L492.1,287.4 L492.1,289.8 L492.1,292.2 L492.2,294.6 L492.4,296.9 L492.7,299.3 L493.2,301.7 L493.8,304.1 L494.5,306.4 L495.4,308.8 L496.3,311.0 L497.3,313.2 L498.5,315.4 L499.7,317.4 L500.9,319.4 L502.3,321.3 L503.7,323.1 L505.3,324.8 L506.9,326.5 L508.6,328.1 L510.4,329.5 L512.2,330.8 L514.3,332.1 L516.7,333.2 L519.2,334.0 L521.6,334.6 L523.8,335.0 L525.8,335.3 L527.5,335.6 L528.7,335.7 L529.6,335.9 L532.4,320.1 L531.2,319.9 L529.7,319.7 L528.1,319.5 L526.5,319.2 L525.0,318.9 L523.6,318.6 L522.5,318.2 L521.7,317.9 L520.8,317.4 L519.7,316.7 L518.5,315.9 L517.4,315.0 L516.2,314.0 L515.1,312.9 L514.1,311.8 L513.1,310.6 L512.1,309.3 L511.2,307.9 L510.3,306.4 L509.4,304.8 L508.6,303.2 L507.9,301.6 L507.3,299.9 L506.8,298.3 L506.4,296.7 L506.0,295.0 L505.7,293.3 L505.6,291.5 L505.4,289.6 L505.4,287.7 L505.4,285.6 L505.5,283.5 L505.6,281.3 L505.9,279.0 L506.2,276.6 L506.5,274.1 L507.0,271.7 L507.5,269.4 L508.0,267.1 L508.7,265.0 L509.3,263.0 L510.0,261.1 L510.8,259.2 L511.6,257.4 L512.5,255.6 L513.5,253.8 L514.6,252.0 L515.9,250.2 L517.3,248.3 L519.2,246.2 L521.3,244.0 L523.5,241.8 L525.7,239.7 L527.7,237.8 L529.4,236.2 L530.7,235.0 Z" fill="#e2cfac" stroke="#b39870" stroke-width="0.9"/>
<path d="M526.9,230.8 L525.6,231.9 L523.9,233.4 L521.7,235.2 L519.4,237.2 L516.9,239.3 L514.6,241.5 L512.3,243.6 L510.5,245.7 L508.9,247.7 L507.4,249.6 L506.1,251.6 L504.8,253.6 L503.7,255.6 L502.6,257.7 L501.6,259.9 L500.7,262.2 L499.9,264.6 L499.1,267.2 L498.5,269.8 L497.9,272.5 L497.4,275.1 L497.0,277.8 L496.7,280.3 L496.4,282.8 L496.2,285.1 L496.1,287.4 L496.1,289.7 L496.1,292.0 L496.3,294.2 L496.5,296.4 L496.8,298.5 L497.3,300.7 L497.9,302.8 L498.6,305.0 L499.4,307.1 L500.3,309.2 L501.2,311.2 L502.3,313.1 L503.4,315.0 L504.6,316.8 L505.8,318.4 L507.1,320.0 L508.6,321.6 L510.0,323.1 L511.6,324.4 L513.2,325.7 L514.8,326.8 L516.5,327.8 L518.5,328.7 L520.5,329.4 L522.6,329.9 L524.6,330.3 L526.5,330.6 L528.2,330.8 L529.5,331.0 L530.4,331.1 L531.6,324.9 L530.5,324.7 L529.1,324.5 L527.5,324.2 L525.7,324.0 L524.0,323.6 L522.3,323.2 L520.8,322.7 L519.5,322.2 L518.2,321.4 L516.9,320.5 L515.5,319.6 L514.2,318.4 L512.9,317.3 L511.7,316.0 L510.5,314.6 L509.4,313.2 L508.4,311.8 L507.4,310.2 L506.4,308.5 L505.5,306.7 L504.7,304.9 L503.9,303.0 L503.3,301.2 L502.7,299.3 L502.3,297.5 L501.9,295.6 L501.7,293.6 L501.5,291.7 L501.4,289.6 L501.4,287.6 L501.5,285.4 L501.6,283.2 L501.8,280.9 L502.1,278.5 L502.4,276.0 L502.8,273.4 L503.3,270.9 L503.9,268.4 L504.6,266.0 L505.3,263.8 L506.0,261.7 L506.8,259.6 L507.7,257.7 L508.7,255.8 L509.7,253.9 L510.9,252.0 L512.2,250.2 L513.5,248.3 L515.2,246.3 L517.2,244.2 L519.4,242.0 L521.7,239.8 L524.0,237.8 L526.1,235.9 L527.8,234.4 L529.1,233.2 Z" fill="#ecdfc3" opacity="0.75"/>
<path d="M537.9,225.5 L536.7,226.0 L534.9,226.8 L532.9,227.6 L530.7,228.6 L528.6,229.8 L526.8,231.0 L525.2,232.4 L523.6,234.0 L522.0,235.7 L520.6,237.4 L519.3,239.2 L518.2,240.9 L517.2,242.5 L516.4,244.2 L515.7,245.8 L515.2,247.4 L514.8,249.1 L514.5,250.7 L514.4,252.4 L514.4,254.0 L514.5,255.7 L514.7,257.4 L515.2,259.0 L515.7,260.6 L516.4,262.1 L517.2,263.6 L518.2,265.0 L519.3,266.4 L520.5,267.8 L521.9,269.2 L523.5,270.7 L525.2,272.2 L527.1,273.6 L529.0,275.1 L531.0,276.5 L532.9,277.8 L534.8,279.0 L536.6,280.1 L538.5,281.2 L540.4,282.2 L542.2,283.1 L544.0,284.0 L545.8,284.8 L547.8,285.5 L549.6,286.2 L551.4,286.8 L552.8,287.2 L553.9,287.6 L561.3,269.2 L561.1,269.1 L560.9,269.1 L560.7,269.1 L560.3,268.9 L559.7,268.6 L558.8,268.0 L557.6,267.1 L556.1,266.0 L554.4,264.7 L552.6,263.3 L550.7,261.9 L549.0,260.6 L547.3,259.4 L545.5,258.1 L543.8,256.9 L542.0,255.7 L540.4,254.4 L539.0,253.2 L537.7,252.0 L536.5,250.8 L535.5,249.7 L534.5,248.4 L533.7,247.2 L533.0,245.8 L532.5,244.2 L532.2,242.3 L532.0,240.4 L531.9,238.6 L531.8,237.1 L531.7,236.0 Z" fill="#e2cfac" stroke="#b39870" stroke-width="0.9"/>
<path d="M598.7,207.9 L609,208 L614,229 L591,219.4 Z" fill="url(#gC)" stroke="#8d9dc2" stroke-width="0.9"/>
<path d="M594.9,235.6 L628.6,253.6 L624,264.2 L584.4,244.3 Z" fill="url(#gC)" stroke="#8d9dc2" stroke-width="0.9"/>
<path d="M561.3,269.5 L565.0,269.7 L570.1,270.1 L576.1,270.5 L582.6,270.9 L589.0,271.1 L595.0,271.0 L600.9,270.6 L607.3,269.9 L613.6,269.1 L619.5,268.2 L624.4,267.5 L628.0,267.0 L628.0,293.0 L624.5,293.6 L619.7,294.5 L614.1,295.6 L607.8,296.5 L601.4,297.1 L595.0,297.0 L588.1,296.1 L580.4,294.5 L572.4,292.6 L564.9,290.5 L558.5,288.8 L553.9,287.6 Z" fill="url(#gC)" stroke="#8d9dc2" stroke-width="0.9"/>
<path d="M534.5,319.6 L539.6,319.7 L546.5,319.9 L554.8,320.1 L563.7,320.1 L572.7,319.8 L581.0,319.0 L589.3,317.5 L598.4,315.4 L607.4,313.0 L615.8,310.5 L622.9,308.4 L628.0,307.0 L628.0,329.0 L623.0,329.8 L616.0,331.1 L607.8,332.5 L598.8,334.0 L589.7,335.2 L581.0,336.0 L571.9,336.4 L561.9,336.4 L551.7,336.2 L542.2,336.0 L534.1,335.7 L528.3,335.6 Z" fill="url(#gC)" stroke="#8d9dc2" stroke-width="0.9"/>
<path d="M509.7,367.5 L514.6,367.1 L521.5,366.6 L529.5,365.9 L538.1,365.1 L546.5,364.2 L554.0,363.0 L560.7,361.5 L567.2,359.7 L573.5,357.7 L579.5,355.7 L585.4,353.7 L591.0,352.0 L596.5,350.4 L602.0,348.9 L607.3,347.4 L612.2,346.1 L616.5,345.0 L620.0,344.0 L622.6,343.3 L624.5,342.8 L625.8,342.5 L626.7,342.3 L627.4,342.1 L628.0,342.0 L628.0,358.0 L627.4,358.2 L626.7,358.4 L625.9,358.7 L624.6,359.1 L622.7,359.9 L620.0,361.0 L616.3,362.7 L611.9,364.8 L606.8,367.2 L601.3,369.7 L595.6,372.0 L590.0,374.0 L584.5,375.6 L578.8,377.1 L573.0,378.3 L566.9,379.5 L560.6,380.5 L554.0,381.5 L546.5,382.4 L537.9,383.1 L529.1,383.7 L520.7,384.2 L513.6,384.7 L508.6,385.0 Z" fill="url(#gC)" stroke="#8d9dc2" stroke-width="0.9"/>
<path d="M496.6,416.0 L503.1,415.3 L512.2,414.4 L522.9,413.3 L534.1,412.1 L544.8,410.6 L553.8,409.0 L561.3,407.1 L568.0,405.0 L574.2,402.7 L580.0,400.3 L585.4,397.9 L590.8,395.7 L596.1,393.5 L601.2,391.3 L606.0,389.1 L610.4,387.0 L614.4,385.0 L617.8,383.4 L620.6,382.0 L622.8,380.9 L624.6,379.9 L626.0,379.1 L627.1,378.5 L628.0,378.0 L628.0,392.0 L627.7,392.3 L627.6,392.5 L627.4,392.9 L626.7,393.5 L625.3,394.4 L622.8,395.7 L618.8,397.6 L613.4,400.0 L607.3,402.7 L601.1,405.5 L595.4,408.2 L590.8,410.5 L587.6,412.4 L585.4,414.1 L583.6,415.6 L582.0,417.1 L580.1,418.5 L577.5,420.0 L574.5,421.6 L571.6,423.1 L568.4,424.7 L564.6,426.2 L559.8,427.7 L553.8,429.0 L545.5,430.3 L535.1,431.6 L523.7,432.8 L512.7,433.9 L503.2,434.8 L496.6,435.5 Z" fill="url(#gC)" stroke="#8d9dc2" stroke-width="0.9"/>
<path d="M628,398 L622.8,399 L604,409 L590.8,417.8 L575,428 L566.2,436 L560,444 L549,452 L545,453 L522.5,458.2 L495.6,459.2 L493.7,466.8 L495.6,474.5 L510,477.5 L523,482 L528,487.5 L523,492 L510,494.5 L501.4,495.5 L498.5,503.2 L499.5,510.9 L511,511.8 L522.5,512.8 L511,515.7 L503.3,518.5 L504.3,526.2 L509,532 L514.8,535.8 L516.7,539.6 L518.6,545.3 L525,547.7 L531,548 L540,543.5 L548,536 L552.7,530.8 L557,520 L561.2,509.6 L568,490.5 L577,475 L587.6,461 L599,440 L610,429.8 L627.3,410.6 L630,408 Z" stroke-linejoin="round" fill="url(#gC)" stroke="#8d9dc2" stroke-width="0.9"/>
<path d="M551.5,428 C555,436 554,446 546,454 L572,444 C565,440 562,433 566,427 Z" fill="#cbd7ef"/>
<path d="M551.5,429 C555,436 554,446 547,453 M566,428 C562,433 564,440 571,444" fill="none" stroke="#8d9dc2" stroke-width="0.9"/>
<ellipse cx="540.6" cy="480.6" rx="8.8" ry="7.2" transform="rotate(-30 540.6 480.6)" fill="#fff" stroke="#7f8db0" stroke-width="1"/>
<path d="M546.2,485.8 L545.9,485.4 L545.5,484.7 L545.1,484.0 L544.6,483.1 L544.0,482.3 L543.4,481.4 L542.7,480.6 L542.0,479.9 L541.2,479.2 L540.3,478.6 L539.3,478.0 L538.3,477.5 L537.3,476.9 L536.4,476.5 L535.7,476.1 L535.2,475.8 L534.8,476.2 L535.2,476.7 L535.8,477.3 L536.4,478.1 L537.1,478.9 L537.8,479.8 L538.6,480.7 L539.3,481.4 L540.0,482.1 L540.7,482.7 L541.5,483.3 L542.3,483.9 L543.2,484.5 L544.0,485.0 L544.7,485.5 L545.4,485.9 L545.8,486.2 Z" fill="#d9c39e"/>
</g></defs>
<use href="#L"/><use href="#L" transform="translate(1286,0) scale(-1,1)"/>
<path d="M622.0,412.0 L622.7,409.9 L623.7,408.2 L625.1,406.9 L626.6,405.8 L628.3,404.8 L630.0,404.0 L631.9,403.3 L634.0,402.7 L636.2,402.4 L638.5,402.1 L640.8,402.0 L643.0,402.0 L645.2,402.0 L647.5,402.1 L649.8,402.4 L652.0,402.7 L654.1,403.3 L656.0,404.0 L657.7,404.8 L659.4,405.8 L660.9,406.9 L662.3,408.2 L663.3,409.9 L664.0,412.0 L664.7,414.9 L665.4,418.5 L665.9,422.5 L665.7,426.4 L664.5,429.7 L662.0,432.0 L657.3,433.4 L650.7,434.2 L643.0,434.5 L635.3,434.2 L628.7,433.4 L624.0,432.0 L621.5,429.7 L620.3,426.4 L620.1,422.5 L620.6,418.5 L621.3,414.9 Z" fill="#c9b190" stroke="#a88f6e" stroke-width="0.8"/>
<path d="M624,438 L662,438 L664,461 L665,472 L664,495 L665,507 L664,536 L622,536 L621,507 L622,495 L621,472 L622,461 Z" fill="#dfcdad" stroke="#b59c78" stroke-width="0.8"/>
<path d="M624,450 C635,453 651,453 662,450 M623,485 C635,488 651,488 663,485 M622,522 C635,525 651,525 664,522" stroke="#e6d7bb" stroke-width="3" fill="none" opacity="0.8"/>
<path d="M606.0,519.0 L606.8,518.3 L607.9,517.5 L609.4,516.7 L611.0,515.8 L612.6,515.1 L614.0,514.5 L615.4,513.9 L617.0,513.3 L618.5,512.7 L619.9,512.4 L621.1,512.4 L622.0,513.0 L622.6,514.4 L622.9,516.5 L623.0,519.0 L622.9,521.5 L622.6,523.6 L622.0,525.0 L621.1,525.6 L619.9,525.7 L618.4,525.4 L616.8,524.9 L615.3,524.4 L614.0,524.0 L612.8,523.7 L611.7,523.4 L610.6,523.1 L609.6,522.8 L608.7,522.4 L608.0,522.0 L607.3,521.6 L606.7,521.1 L606.1,520.7 L605.8,520.1 L605.7,519.6 Z" fill="#dfcdad" stroke="#b59c78" stroke-width="0.8"/>
<path d="M680.0,519.0 L679.2,518.3 L678.1,517.5 L676.6,516.7 L675.0,515.8 L673.4,515.1 L672.0,514.5 L670.6,513.9 L669.0,513.3 L667.5,512.7 L666.1,512.4 L664.9,512.4 L664.0,513.0 L663.4,514.4 L663.1,516.5 L663.0,519.0 L663.1,521.5 L663.4,523.6 L664.0,525.0 L664.9,525.6 L666.1,525.7 L667.6,525.4 L669.2,524.9 L670.7,524.4 L672.0,524.0 L673.2,523.7 L674.3,523.4 L675.4,523.1 L676.4,522.8 L677.3,522.4 L678.0,522.0 L678.7,521.6 L679.3,521.1 L679.9,520.7 L680.2,520.1 L680.3,519.6 Z" fill="#dfcdad" stroke="#b59c78" stroke-width="0.8"/>
<path d="M617.0,483.0 L617.3,482.4 L617.9,481.9 L618.6,481.4 L619.5,481.0 L620.3,480.7 L621.0,480.5 L621.6,480.3 L622.2,480.2 L622.8,480.2 L623.3,480.2 L623.7,480.5 L624.0,481.0 L624.2,481.9 L624.4,483.1 L624.4,484.5 L624.4,485.9 L624.3,487.2 L624.0,488.0 L623.6,488.5 L622.9,488.7 L622.2,488.8 L621.4,488.6 L620.7,488.4 L620.0,488.0 L619.4,487.4 L618.7,486.6 L618.0,485.7 L617.4,484.7 L617.1,483.7 Z" fill="#dfcdad" stroke="#b59c78" stroke-width="0.8"/>
<path d="M669.0,483.0 L668.7,482.4 L668.1,481.9 L667.4,481.4 L666.5,481.0 L665.7,480.7 L665.0,480.5 L664.4,480.3 L663.8,480.2 L663.2,480.2 L662.7,480.2 L662.3,480.5 L662.0,481.0 L661.8,481.9 L661.6,483.1 L661.6,484.5 L661.6,485.9 L661.7,487.2 L662.0,488.0 L662.4,488.5 L663.1,488.7 L663.8,488.8 L664.6,488.6 L665.3,488.4 L666.0,488.0 L666.6,487.4 L667.3,486.6 L668.0,485.7 L668.6,484.7 L668.9,483.7 Z" fill="#dfcdad" stroke="#b59c78" stroke-width="0.8"/>
<path d="M624.4,431 C635,429 651,429 661.4,431 L661.4,439 C651,441 635,441 624.4,439 Z" fill="#80cfe2" stroke="#58b0c9" stroke-width="0.8"/>
<path d="M621.7,462 C635,460 651,460 665.4,462 L665.4,471 C651,473 635,473 621.7,471 Z" fill="#80cfe2" stroke="#58b0c9" stroke-width="0.8"/>
<path d="M621.5,497 C635,495 651,495 664.5,497 L664.5,506.5 C651,508.5 635,508.5 621.5,506.5 Z" fill="#80cfe2" stroke="#58b0c9" stroke-width="0.8"/>
<path d="M618.4,537 C635,535.5 651,535.5 667.7,537 L667.7,545.5 C651,547 635,547 618.4,545.5 Z" fill="#80cfe2" stroke="#58b0c9" stroke-width="0.8"/>
<path d="M625,432 C635,430.5 651,430.5 661,432 M622.5,463 C635,461.5 651,461.5 664.5,463 M622.5,498 C635,496.5 651,496.5 663.5,498 M619.5,538 C635,536.5 651,536.5 666.5,538" stroke="#b9e6f1" stroke-width="1.3" fill="none"/>
<path d="M630,547 h4 v2.5 h-4 Z M654,547 h4 v2.5 h-4 Z" fill="#6fc2d8"/>
<path d="M627,178 L660,178 L660.5,201 L626.5,201 Z" fill="#c5af93" stroke="#9e8566" stroke-width="0.8"/>
<path d="M622.5,176 C622,171 626,169.5 631,170.5 L630,174 C627,173.5 625,174.5 624.5,176.5 Z M664.5,176 C665,171 661,169.5 656,170.5 L657,174 C660,173.5 662,174.5 662.5,176.5 Z" fill="#6b4434"/>
<path d="M626,173.5 C634,171.5 653,171.5 663,173.5 C662,179.5 655,182.8 644.5,182.8 C634,182.8 627.5,179.5 626,173.5 Z" fill="#8ad8ea" stroke="#5aaec8" stroke-width="0.8"/>
<path d="M627.0,199.4 L629.3,199.4 L631.9,199.7 L634.6,200.1 L637.4,200.5 L640.3,200.9 L643.0,201.0 L645.7,200.9 L648.6,200.5 L651.4,200.1 L654.2,199.7 L656.7,199.4 L659.0,199.4 L660.9,199.7 L662.6,200.2 L664.1,200.9 L665.4,201.6 L666.7,202.3 L668.0,203.0 L669.4,203.6 L670.8,204.1 L672.1,204.5 L673.3,205.1 L674.3,205.9 L675.0,206.8 L675.4,208.0 L675.4,209.4 L675.2,211.0 L675.0,212.6 L674.7,214.3 L674.5,216.0 L674.5,217.7 L674.5,219.4 L674.5,221.2 L674.4,223.0 L674.2,224.8 L673.8,226.5 L673.1,228.2 L672.3,229.8 L671.3,231.4 L670.2,233.0 L669.1,234.5 L668.0,236.0 L666.9,237.3 L665.7,238.5 L664.5,239.7 L663.3,240.9 L662.3,242.2 L661.5,243.7 L661.4,245.6 L662.0,247.9 L662.7,250.3 L663.1,252.6 L662.4,254.6 L660.3,256.0 L656.0,256.9 L649.7,257.4 L642.5,257.5 L635.3,257.4 L629.0,256.9 L624.6,256.0 L622.3,254.6 L621.4,252.6 L621.5,250.3 L622.0,247.9 L622.3,245.6 L622.0,243.7 L621.1,242.2 L619.9,240.9 L618.6,239.7 L617.3,238.5 L616.1,237.3 L615.0,236.0 L614.0,234.5 L613.0,233.0 L612.1,231.4 L611.2,229.8 L610.5,228.2 L610.0,226.5 L609.7,224.8 L609.6,223.0 L609.6,221.2 L609.7,219.4 L609.8,217.7 L609.8,216.0 L609.7,214.3 L609.5,212.6 L609.3,211.0 L609.3,209.4 L609.4,208.0 L609.8,206.8 L610.6,205.9 L611.6,205.1 L612.8,204.6 L614.1,204.1 L615.6,203.6 L617.0,203.0 L618.4,202.3 L619.9,201.6 L621.5,200.9 L623.1,200.2 L625.0,199.7 Z" fill="#ebdec0" stroke="#c2a981" stroke-width="0.9"/>
<path d="M623.4,257.0 L625.4,255.8 L628.3,255.4 L631.8,255.7 L635.7,256.2 L639.5,256.8 L643.0,257.0 L646.4,256.8 L650.0,256.2 L653.7,255.7 L657.0,255.4 L659.7,255.8 L661.6,257.0 L662.4,259.2 L662.2,262.3 L661.5,265.9 L660.6,269.9 L659.8,274.0 L659.5,278.0 L659.8,281.8 L660.3,285.4 L660.9,289.2 L661.6,293.3 L662.4,297.9 L663.0,303.0 L663.6,308.9 L664.2,315.6 L664.9,322.6 L665.5,329.9 L666.0,337.1 L666.5,344.0 L667.0,350.8 L667.5,357.9 L667.9,364.8 L668.2,371.5 L668.3,377.6 L668.0,383.0 L667.3,387.5 L666.3,391.4 L665.0,394.8 L663.6,397.8 L662.3,400.5 L661.0,403.0 L659.8,405.2 L658.6,407.1 L657.4,408.6 L656.2,410.1 L655.1,411.5 L654.0,413.0 L653.0,414.7 L652.0,416.4 L651.0,418.1 L650.1,419.7 L649.3,421.3 L648.5,422.8 L647.8,424.2 L647.3,425.5 L646.8,426.7 L646.4,427.9 L645.9,429.0 L645.5,430.0 L645.1,431.1 L644.6,432.2 L644.2,433.3 L643.8,434.2 L643.4,434.8 L643.0,435.0 L642.6,434.8 L642.2,434.2 L641.8,433.3 L641.4,432.2 L640.9,431.1 L640.5,430.0 L640.1,429.0 L639.6,427.9 L639.2,426.7 L638.7,425.5 L638.2,424.2 L637.5,422.8 L636.7,421.3 L635.9,419.7 L635.0,418.1 L634.0,416.4 L633.0,414.7 L632.0,413.0 L630.9,411.5 L629.8,410.1 L628.6,408.6 L627.4,407.1 L626.2,405.2 L625.0,403.0 L623.7,400.5 L622.4,397.8 L621.0,394.8 L619.7,391.4 L618.7,387.5 L618.0,383.0 L617.7,377.6 L617.8,371.3 L618.2,364.4 L618.6,357.4 L619.1,350.5 L619.5,344.0 L619.8,337.9 L620.2,331.9 L620.6,326.0 L621.0,320.2 L621.5,314.6 L622.0,309.0 L622.7,303.5 L623.6,298.0 L624.6,292.6 L625.5,287.4 L626.2,282.5 L626.5,278.0 L626.2,273.7 L625.2,269.5 L624.0,265.6 L623.0,262.1 L622.7,259.2 Z" fill="#ebdec0" stroke="#c2a981" stroke-width="0.9"/>
<path d="M623,256.5 L663,256.5" stroke="#6b5a45" stroke-width="1.2"/>
<!--/CAGE--></g>
<!-- labels -->
<g>
<text x="19" y="49" font-size="33.85" font-weight="bold">Thoracic skeleton: Anterior view</text>
<g font-size="16.25">
<text x="910" y="174">Incisura jugularis</text>
<text x="976" y="237">Manubrium sterni</text>
<text x="976" y="262">Angulus sterni</text>
<text x="976" y="295">Corpus sterni</text>
<text x="976" y="330">Proc. xiphoideus</text>
<text x="1111" y="284">Sternum</text>
<text x="147" y="387">Cartilagines costales</text>
<text x="174" y="578">Vertebral column</text>
<text x="932" y="504">Arcus costalis</text>
</g>
<g fill="none" stroke="#2a2a2a" stroke-width="1.3">
<path d="M643 200H972V182"/>
<path d="M643 231H972"/>
<path d="M643 256.5H972"/>
<path d="M643 290H972"/>
<path d="M643 424V325H972"/>
<path d="M1036.5 217.5V202.5H1108V354H1036.5V340"/>
<path d="M546.5 333H298.5V427.5H546.5"/>
<path d="M640 521V573H298"/>
<path d="M721.5 481H929V522H742"/>
</g>
<g fill="#111">
<circle cx="643" cy="200" r="2.2"/><circle cx="643" cy="231" r="2.2"/><circle cx="643" cy="256.5" r="2.2"/>
<circle cx="643" cy="290" r="2.2"/><circle cx="643" cy="424" r="2.2"/><circle cx="546.5" cy="333" r="2.2"/>
<circle cx="546.5" cy="427.5" r="2.2"/><circle cx="640" cy="521" r="2.2"/><circle cx="721.5" cy="481" r="2.2"/><circle cx="742" cy="522" r="2.2"/>
</g>
</g>
</svg>
</body></html>
